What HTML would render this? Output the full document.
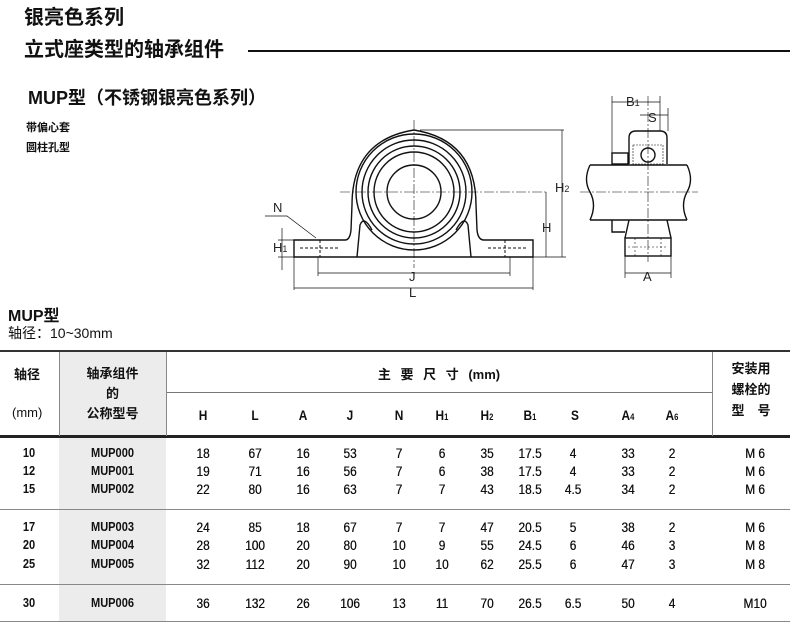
<!DOCTYPE html>
<html><head><meta charset="utf-8"><style>
body{margin:0;width:790px;height:634px;background:#fff;position:relative;overflow:hidden;font-family:"Liberation Sans","Noto Sans CJK SC",sans-serif;color:#111}
.a{position:absolute;white-space:nowrap}
.c{position:absolute;text-align:center;font-size:13px;font-weight:bold;transform:scaleX(.85)}
.n{font-weight:normal;text-shadow:0.3px 0 0 #111}
</style></head><body>
<div class="a" style="left:24px;top:6px;font-size:20px;line-height:24px;font-weight:bold">银亮色系列</div>
<div class="a" style="left:24px;top:38px;font-size:20px;line-height:24px;font-weight:bold">立式座类型的轴承组件</div>
<div class="a" style="left:248px;top:50px;width:542px;height:2px;background:#111"></div>
<div class="a" style="left:28px;top:84px;font-size:18px;font-weight:bold">MUP型（不锈钢银亮色系列）</div>
<div class="a" style="left:26px;top:119px;font-size:11px;font-weight:bold">带偏心套</div>
<div class="a" style="left:26px;top:139px;font-size:11px;font-weight:bold">圆柱孔型</div>
<svg class="a" style="left:0;top:0" width="790" height="300" viewBox="0 0 790 300" fill="none" stroke="#111" stroke-width="1.4" font-family="Liberation Sans" font-size="13">
<path d="M294,240 L345,240 Q350,240 351,230 L352,205 Q352,140 414,130 Q476,140 476,205 L477,230 Q478,240 484,240 L533,240 L533,257 L294,257 Z" fill="#fff"/>
<circle cx="414" cy="192" r="58"/><circle cx="414" cy="192" r="52"/><circle cx="414" cy="192" r="46"/><circle cx="414" cy="192" r="40"/><circle cx="414" cy="192" r="27"/>
<path d="M357,257 L360,225 Q364,215 372,230 M471,257 L468,225 Q464,215 456,230"/>
<path d="M300,248 h40 M488,248 h40" stroke-dasharray="3,2" stroke-width="1"/>
<path d="M320,240 v17 M505,240 v17" stroke-dasharray="3,2" stroke-width="1"/>
<path d="M414,120 V268 M340,192 H548" stroke-width=".6" stroke-dasharray="10,2,2,2"/>
<path d="M420,130 H564 M416,257 H566 M562,130 V257 M546,192 V257" stroke-width=".7"/>
<text x="555" y="192" fill="#222" stroke="none">H<tspan font-size="9">2</tspan></text>
<text x="542" y="232" fill="#222" stroke="none">H</text>
<path d="M278,240 H294 M278,257 H294 M282,228 V270" stroke-width=".7"/>
<text x="273" y="252" fill="#222" stroke="none">H<tspan font-size="9">1</tspan></text>
<text x="273" y="212" fill="#222" stroke="none">N</text>
<path d="M265,216 H287 L316,238" stroke-width=".7"/>
<path d="M318,257 V276 M510,257 V276 M294,257 V290 M533,257 V290 M318,273 H510 M294,288 H533" stroke-width=".7"/>
<text x="409" y="281" fill="#222" stroke="none">J</text>
<text x="409" y="297" fill="#222" stroke="none">L</text>
<path d="M629,164 V138 Q629,131 636,131 H660 Q667,131 667,138 V164" fill="#fff"/>
<rect x="612" y="153" width="16" height="11" fill="#fff"/>
<path d="M633,145 H663 V164 H633 Z" stroke-width=".6" stroke-dasharray="2,1"/>
<circle cx="648" cy="155" r="7"/>
<path d="M590,165 H687 M590,220 H687 M590,165 Q583,180 590,192 Q597,205 590,220 M687,165 Q694,180 687,192 Q680,205 687,220"/>
<path d="M612,220 V232 H625 M629,220 L625,238 M667,220 L671,238"/>
<rect x="625" y="238" width="46" height="18" fill="#fff"/>
<path d="M635,238 v18 M661,238 v18 M628,247 h40" stroke-width=".6" stroke-dasharray="2,2"/>
<path d="M648,96 V262 M580,192 H698" stroke-width=".6" stroke-dasharray="10,2,2,2"/>
<path d="M612,96 V153 M660,96 V131 M612,102 H660 M640,115 H668 M668,108 V131 M625,256 V278 M671,256 V278 M625,273 H671" stroke-width=".7"/>
<text x="626" y="106" fill="#222" stroke="none">B<tspan font-size="9">1</tspan></text>
<text x="648" y="122" fill="#222" stroke="none">S</text>
<text x="643" y="281" fill="#222" stroke="none">A</text>
</svg>
<div class="a" style="left:8px;top:302px;font-size:16px;font-weight:bold">MUP型</div>
<div class="a" style="left:8px;top:323px;font-size:14px">轴径：10~30mm</div>
<div class="a" style="left:59px;top:352px;width:107px;height:84px;background:#ececec"></div>
<div class="a" style="left:59px;top:438px;width:107px;height:184px;background:#ececec"></div>
<div class="a" style="left:0;top:350px;width:790px;height:2px;background:#333"></div>
<div class="a" style="left:166px;top:392px;width:546px;height:1px;background:#777"></div>
<div class="a" style="left:0;top:435px;width:790px;height:3px;background:#222"></div>
<div class="a" style="left:0;top:509px;width:790px;height:1px;background:#888"></div>
<div class="a" style="left:0;top:584px;width:790px;height:1px;background:#888"></div>
<div class="a" style="left:0;top:621px;width:790px;height:1px;background:#888"></div>
<div class="a" style="left:59px;top:352px;width:1px;height:84px;background:#888"></div>
<div class="a" style="left:166px;top:352px;width:1px;height:84px;background:#888"></div>
<div class="a" style="left:712px;top:352px;width:1px;height:84px;background:#888"></div>
<div class="a" style="left:14px;top:364px;font-size:13px;font-weight:bold">轴径</div>
<div class="a" style="left:12px;top:405px;font-size:13px">(mm)</div>
<div class="a" style="left:59px;width:107px;top:364px;text-align:center;font-size:13px;font-weight:bold;line-height:20px">轴承组件<br>的<br>公称型号</div>
<div class="a" style="left:166px;width:546px;top:364px;text-align:center;font-size:13px;font-weight:bold;word-spacing:6px">主 要 尺 寸 (mm)</div>
<div class="a" style="left:712px;width:78px;top:358px;text-align:center;font-size:13px;font-weight:bold;line-height:21px">安装用<br>螺栓的<br>型　号</div>
<div id="t"></div>
<script>
var cx=[203,255,303,350,399,442,487,530,575,628,672];
var hd=['H','L','A','J','N','H<sub>1</sub>','H<sub>2</sub>','B<sub>1</sub>','S','A<sub>4</sub>','A<sub>6</sub>'];
var h='';
hd.forEach(function(s,i){h+='<div class="c" style="left:'+(cx[i]-20)+'px;width:40px;top:407px;font-size:14px">'+s.replace(/<sub>/,'<span style="font-size:9px">').replace('</sub>','</span>')+'</div>';});
var rows=[[453,'10','MUP000','18 67 16 53 7 6 35 17.5 4 33 2','M 6'],[471,'12','MUP001','19 71 16 56 7 6 38 17.5 4 33 2','M 6'],[489,'15','MUP002','22 80 16 63 7 7 43 18.5 4.5 34 2','M 6'],
[527,'17','MUP003','24 85 18 67 7 7 47 20.5 5 38 2','M 6'],[545,'20','MUP004','28 100 20 80 10 9 55 24.5 6 46 3','M 8'],[564,'25','MUP005','32 112 20 90 10 10 62 25.5 6 47 3','M 8'],[603,'30','MUP006','36 132 26 106 13 11 70 26.5 6.5 50 4','M10']];
rows.forEach(function(r){var y=r[0]-8;
h+='<div class="c" style="left:14px;width:30px;top:'+y+'px">'+r[1]+'</div>';
h+='<div class="c" style="left:70px;width:85px;top:'+y+'px">'+r[2]+'</div>';
r[3].split(' ').forEach(function(v,i){var x=cx[i];if(i==7)x=530;if(i==8)x=573;h+='<div class="c n" style="left:'+(x-20)+'px;width:40px;top:'+y+'px;font-size:14px">'+v+'</div>';});
h+='<div class="c n" style="left:735px;width:40px;top:'+y+'px;font-size:14px">'+r[4]+'</div>';});
document.getElementById('t').innerHTML=h;
</script>
</body></html>
